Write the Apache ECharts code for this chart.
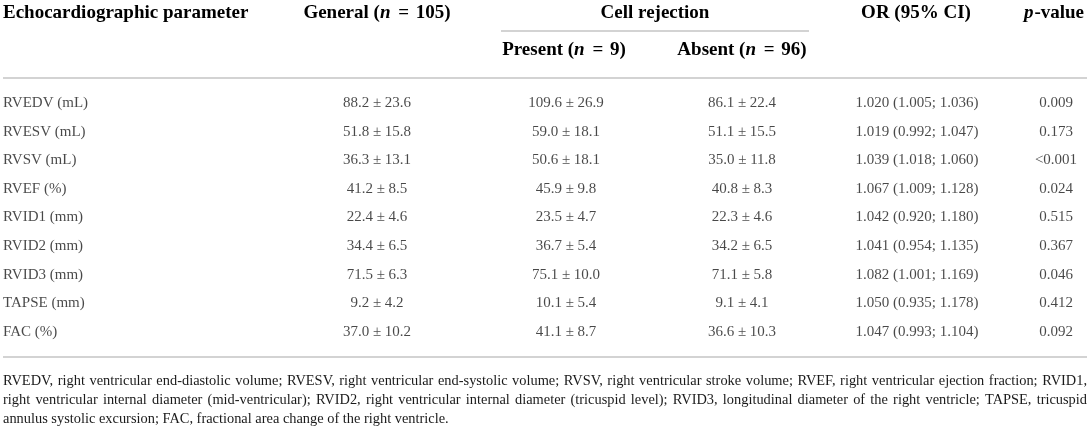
<!DOCTYPE html>
<html>
<head>
<meta charset="utf-8">
<script src="https://cdn.jsdelivr.net/npm/echarts@6/dist/echarts.min.js"></script>
<style>
html,body{margin:0;padding:0;background:#fff;}
#chart{width:1091px;height:427px;}
</style>
</head>
<body>
<div id="chart"></div>
<script>
// ---- data ----
const parameters = ['RVEDV (mL)', 'RVESV (mL)', 'RVSV (mL)', 'RVEF (%)', 'RVID1 (mm)', 'RVID2 (mm)', 'RVID3 (mm)', 'TAPSE (mm)', 'FAC (%)'];
const general = ['88.2 ± 23.6', '51.8 ± 15.8', '36.3 ± 13.1', '41.2 ± 8.5', '22.4 ± 4.6', '34.4 ± 6.5', '71.5 ± 6.3', '9.2 ± 4.2', '37.0 ± 10.2'];
const present = ['109.6 ± 26.9', '59.0 ± 18.1', '50.6 ± 18.1', '45.9 ± 9.8', '23.5 ± 4.7', '36.7 ± 5.4', '75.1 ± 10.0', '10.1 ± 5.4', '41.1 ± 8.7'];
const absent = ['86.1 ± 22.4', '51.1 ± 15.5', '35.0 ± 11.8', '40.8 ± 8.3', '22.3 ± 4.6', '34.2 ± 6.5', '71.1 ± 5.8', '9.1 ± 4.1', '36.6 ± 10.3'];
const orCI = ['1.020 (1.005; 1.036)', '1.019 (0.992; 1.047)', '1.039 (1.018; 1.060)', '1.067 (1.009; 1.128)', '1.042 (0.920; 1.180)', '1.041 (0.954; 1.135)', '1.082 (1.001; 1.169)', '1.050 (0.935; 1.178)', '1.047 (0.993; 1.104)'];
const pValue = ['0.009', '0.173', '<0.001', '0.024', '0.515', '0.367', '0.046', '0.412', '0.092'];
const footnoteLines = [
  'RVEDV, right ventricular end-diastolic volume; RVESV, right ventricular end-systolic volume; RVSV, right ventricular stroke volume; RVEF, right ventricular ejection fraction; RVID1,',
  'right ventricular internal diameter (mid-ventricular); RVID2, right ventricular internal diameter (tricuspid level); RVID3, longitudinal diameter of the right ventricle; TAPSE, tricuspid',
  'annulus systolic excursion; FAC, fractional area change of the right ventricle.'
];

// ---- layout / style ----
const FONT = '"Liberation Serif", "DejaVu Serif", serif';
const INK = '#1a1a1a';
const RULE = '#c4c4c4';
const colX = { param: 3, general: 377, present: 566, absent: 742, or: 917, p: 1056 };
const FOOT_SIZE = 14.4;

const chart = echarts.init(document.getElementById('chart'), null, { renderer: 'canvas' });

function cellSeries(values, x, align) {
  return {
    type: 'scatter',
    symbolSize: 1,
    itemStyle: { color: 'rgba(0,0,0,0)' },
    silent: true,
    data: values.map((v, i) => [x, parameters[i], v]),
    label: {
      show: true,
      position: 'inside',
      align: align || 'center',
      verticalAlign: 'middle',
      formatter: p => p.value[2],
      color: INK,
      fontSize: 15,
      fontFamily: FONT
    }
  };
}

const HS = 19;
const hb = { fontFamily: FONT, fontWeight: 'bold', fontSize: HS, color: INK };
const hbi = { fontFamily: FONT, fontWeight: 'bold', fontStyle: 'italic', fontSize: HS, color: INK, padding: [0, 1, 0, 0] };
const he = { fontFamily: FONT, fontWeight: 'bold', fontSize: HS, color: INK, padding: [0, 2, 0, 2] };

function headText(x, y, text, align) {
  return {
    type: 'text',
    silent: true,
    style: {
      x: x, y: y,
      text: text,
      align: align || 'center',
      verticalAlign: 'middle',
      rich: { b: hb, i: hbi, e: he }
    }
  };
}
function rule(x1, y, x2) {
  return { type: 'line', silent: true, shape: { x1: x1, y1: y, x2: x2, y2: y }, style: { stroke: RULE, lineWidth: 1.5 } };
}

const graphics = [
  headText(colX.param, 13, '{b|Echocardiographic parameter}', 'left'),
  headText(colX.general, 13, '{b|General (}{i|n}{b| }{e|=}{b| 105)}'),
  headText(655, 13, '{b|Cell rejection}'),
  headText(916, 13, '{b|OR (95% CI)}'),
  headText(1054, 13, '{i|p}{b|-value}'),
  headText(564, 50, '{b|Present (}{i|n}{b| }{e|=}{b| 9)}'),
  headText(742, 50, '{b|Absent (}{i|n}{b| }{e|=}{b| 96)}'),
  rule(501, 31, 809),
  rule(3, 78, 1087),
  rule(3, 357, 1087)
];

// footnote: first two lines justified to the right rule edge, last line ragged
const mctx = document.createElement('canvas').getContext('2d');
mctx.font = FOOT_SIZE + 'px "Liberation Serif"';
const FOOT_LEFT = 3, FOOT_RIGHT = 1087;
footnoteLines.forEach((t, i) => {
  const y = 381 + i * 19;
  const justify = i < footnoteLines.length - 1;
  if (!justify) {
    graphics.push({ type: 'text', silent: true,
      style: { x: FOOT_LEFT, y: y, text: t, align: 'left', verticalAlign: 'middle', fontFamily: FONT, fontSize: FOOT_SIZE, fill: INK } });
    return;
  }
  const words = t.split(' ');
  const widths = words.map(w => mctx.measureText(w).width);
  const total = widths.reduce((a, b) => a + b, 0);
  const gap = (FOOT_RIGHT - FOOT_LEFT - total) / (words.length - 1);
  let x = FOOT_LEFT;
  words.forEach((w, k) => {
    graphics.push({ type: 'text', silent: true,
      style: { x: x, y: y, text: w, align: 'left', verticalAlign: 'middle', fontFamily: FONT, fontSize: FOOT_SIZE, fill: INK } });
    x += widths[k] + gap;
  });
});

chart.setOption({
  animation: false,
  backgroundColor: '#fff',
  grid: { left: 0, right: 0, top: 88.7, height: 257.4 },
  xAxis: { type: 'value', min: 0, max: 1091, show: false },
  yAxis: { type: 'category', data: parameters, inverse: true, show: false },
  series: [
    cellSeries(parameters, colX.param, 'left'),
    cellSeries(general, colX.general),
    cellSeries(present, colX.present),
    cellSeries(absent, colX.absent),
    cellSeries(orCI, colX.or),
    cellSeries(pValue, colX.p)
  ],
  graphic: graphics
});
</script>
</body>
</html>
